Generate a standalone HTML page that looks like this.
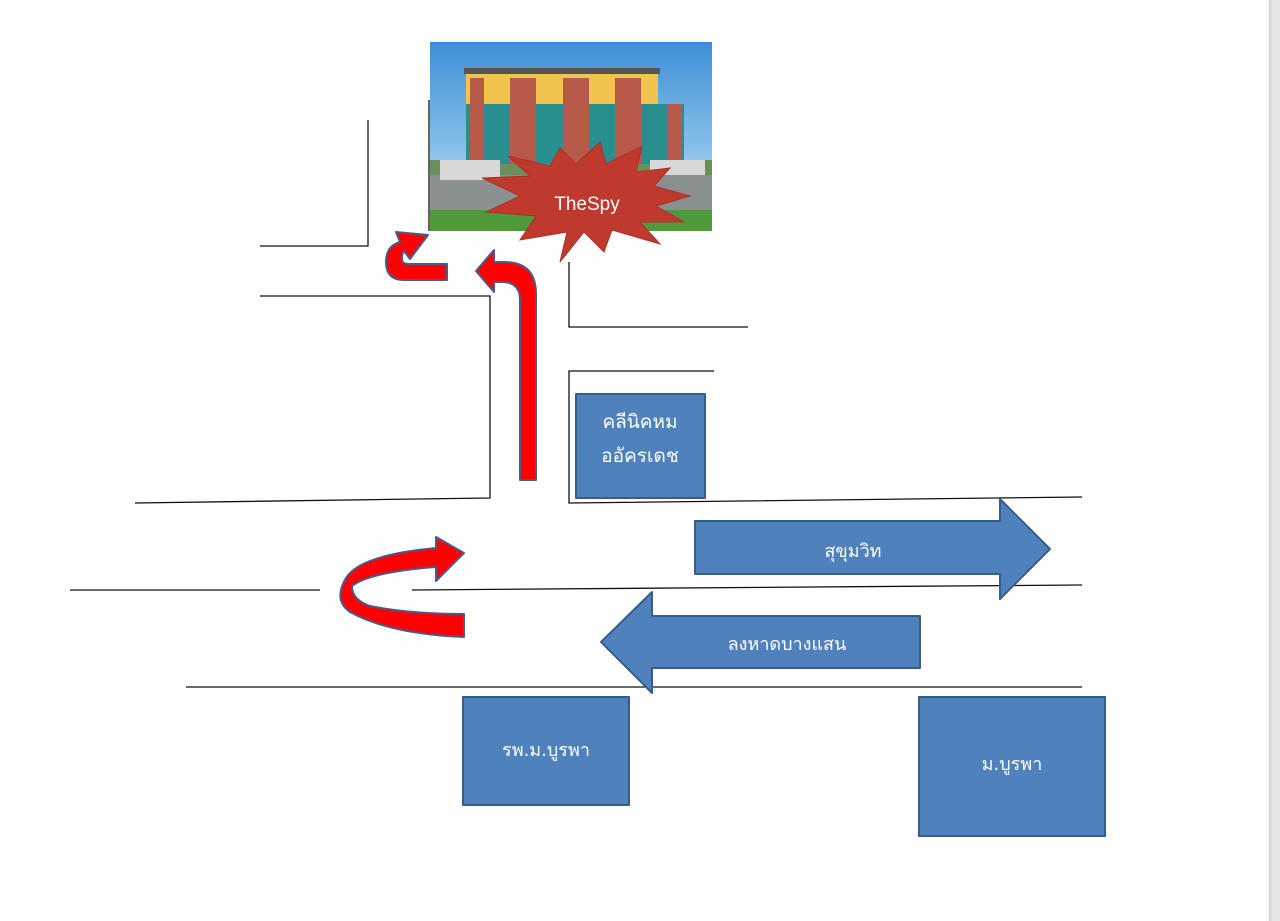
<!DOCTYPE html>
<html><head><meta charset="utf-8"><style>
html,body{margin:0;padding:0;background:#fff;width:1280px;height:921px;overflow:hidden}
svg{display:block}
text{font-family:"DejaVu Sans","Liberation Sans",sans-serif;fill:#fff}
</style></head><body>
<svg width="1280" height="921" viewBox="0 0 1280 921" xmlns="http://www.w3.org/2000/svg">
<defs>
<linearGradient id="sky" x1="0" y1="0" x2="0" y2="1">
<stop offset="0" stop-color="#3d8fd6"/><stop offset="0.6" stop-color="#8cc3ea"/><stop offset="1" stop-color="#cfe6f5"/>
</linearGradient>
</defs>
<rect x="1269" y="0" width="11" height="921" fill="#e6e6e6"/>
<rect x="1269" y="0" width="2" height="921" fill="#d4d4d4"/>
<g stroke="#111" stroke-width="1.3" fill="none">
<path d="M368 120 V246 H260"/>
<path d="M429 100 V231"/>
<path d="M260 296 H490 V498 L135 503"/>
<path d="M569 262 V327 H748"/>
<path d="M714 371 H569 V503 L1082 497"/>
<path d="M70 590 H320"/>
<path d="M412 590 L1082 585"/>
<path d="M186 687 H1082"/>
</g>
<!-- building image -->
<rect x="430" y="42" width="282" height="189" fill="url(#sky)"/>
<rect x="430" y="160" width="282" height="71" fill="#6b8f5a"/>
<rect x="430" y="175" width="282" height="35" fill="#8a8f8f"/>
<rect x="430" y="210" width="282" height="21" fill="#4f9a3a"/>
<rect x="464" y="68" width="196" height="6" fill="#555"/>
<rect x="466" y="74" width="192" height="30" fill="#f2c34e"/>
<rect x="466" y="104" width="218" height="60" fill="#2a8f8f"/>
<g fill="#b85a4a">
<rect x="470" y="78" width="14" height="86"/><rect x="510" y="78" width="26" height="86"/>
<rect x="563" y="78" width="26" height="86"/><rect x="615" y="78" width="26" height="86"/><rect x="667" y="104" width="14" height="60"/>
</g>
<rect x="440" y="160" width="60" height="20" fill="#d8d8d8"/>
<rect x="650" y="160" width="55" height="15" fill="#d8d8d8"/>
<!-- starburst -->
<polygon points="560,262 567,232 520,240 536,216 486,212 520,196 482,178 530,176 508,156 550,166 560,148 576,164 600,142 606,164 642,146 636,172 670,168 654,186 690,196 656,206 684,222 640,222 660,244 612,230 604,252 584,232" fill="#c0392f" stroke="#a8322a" stroke-width="1"/>
<text x="587" y="210" font-size="19" text-anchor="middle" style="font-family:'Liberation Sans',sans-serif">TheSpy</text>
<!-- red arrows -->
<g fill="#ff0000" stroke="#4a5a8a" stroke-width="2" stroke-linejoin="round">
<path d="M520 480 V300 Q520 282 502 282 H494 V292 L476 271 L494 250 V262 H504 Q536 262 536 294 V480 Z"/>
<path d="M447 264 V280 H404 Q386 280 386 262 Q386 246 400 242 L396 232 L428 235 L410 259 L404 251 Q402 253 402 259 Q402 264 408 264 Z"/>
<path d="M464 614 V637 Q390 634 350 612 Q333 600 346 578 Q360 555 436 548 V537 L464 553 L436 581 V567 Q370 572 352 586 Q352 600 370 606 Q410 614 464 614 Z"/>
</g>
<!-- blue shapes -->
<g fill="#4f81bd" stroke="#385d8a" stroke-width="2" stroke-linejoin="round">
<rect x="576" y="394" width="129" height="104"/>
<path d="M695 521 H1000 V499 L1050 549 L1000 599 V574 H695 Z"/>
<path d="M920 616 H652 V592 L601 642 L652 693 V668 H920 Z"/>
<rect x="463" y="697" width="166" height="108"/>
<rect x="919" y="697" width="186" height="139"/>
</g>
<text x="640" y="428" font-size="19" text-anchor="middle">คลีนิคหม</text>
<text x="640" y="462" font-size="19" text-anchor="middle">ออัครเดช</text>
<text x="853" y="557" font-size="18" text-anchor="middle">สุขุมวิท</text>
<text x="787" y="650" font-size="18" text-anchor="middle">ลงหาดบางแสน</text>
<text x="546" y="756" font-size="18" text-anchor="middle">รพ.ม.บูรพา</text>
<text x="1012" y="770" font-size="18" text-anchor="middle">ม.บูรพา</text>
</svg>
</body></html>
